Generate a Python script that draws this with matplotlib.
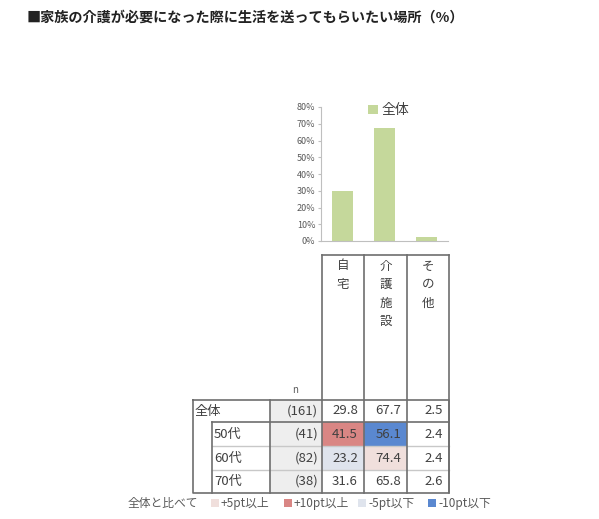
import matplotlib.pyplot as plt
from matplotlib.patches import Rectangle

plt.rcParams['font.family'] = ['Noto Sans CJK JP', 'DejaVu Sans']

# data
places = ['自宅', '介護施設', 'その他']
overall = [29.8, 67.7, 2.5]
row_labels = ['全体', '50代', '60代', '70代']
row_n = [161, 41, 82, 38]
values = [
    [29.8, 67.7, 2.5],
    [41.5, 56.1, 2.4],
    [23.2, 74.4, 2.4],
    [31.6, 65.8, 2.6],
]
legend_labels = ['+5pt以上', '+10pt以上', '-5pt以下', '-10pt以下']
legend_colors = ['#f0dfdc', '#d98684', '#dfe4ed', '#5a88d0']

W, H = 599, 519
fig = plt.figure(figsize=(W / 100, H / 100), dpi=100)

txt = '#404040'
line = '#6e6e6e'
grid = '#c8c8c8'

# overlay axes in pixel coords
ov = fig.add_axes([0, 0, 1, 1])
ov.set_xlim(0, W)
ov.set_ylim(H, 0)
ov.axis('off')

ov.text(27, 18, '■家族の介護が必要になった際に生活を送ってもらいたい場所（%）',
        fontsize=10.2, fontweight='bold', color='#222222', va='center', ha='left')

# bar chart
bx0, bx1, by0, by1 = 321, 448, 107, 241
ax = fig.add_axes([bx0 / W, 1 - by1 / H, (bx1 - bx0) / W, (by1 - by0) / H])
ax.bar(range(3), [v / 100 for v in overall], width=0.5, color='#c5d89b', label='全体')
ax.set_xlim(-0.5, 2.5)
ax.set_ylim(0, 0.8)
ax.set_yticks([i / 10 for i in range(9)])
ax.set_yticklabels([f'{i * 10}%' for i in range(9)], fontsize=6.5, color='#595959')
ax.set_xticks([])
for s in ['top', 'right']:
    ax.spines[s].set_visible(False)
for s in ['left', 'bottom']:
    ax.spines[s].set_color('#bfbfbf')
    ax.spines[s].set_linewidth(0.8)
ax.tick_params(axis='y', length=2, color='#bfbfbf', pad=2)
ax.patch.set_alpha(0)
ax.legend(loc='upper left', bbox_to_anchor=(0.27, 1.12), frameon=False, fontsize=10,
          handlelength=0.7, handleheight=0.7, handletextpad=0.3, labelcolor='#404040')

# table geometry
col_x = [322, 364, 407, 449]
row_y = [400, 422, 446, 470, 493]
left, inner, ncol = 193, 212, 270
header_top = 255


def cell_color(v, base):
    d = v - base
    if d >= 10:
        return legend_colors[1]
    if d >= 5:
        return legend_colors[0]
    if d <= -10:
        return legend_colors[3]
    if d <= -5:
        return legend_colors[2]
    return None


# n column background
ov.add_patch(Rectangle((ncol, row_y[0]), col_x[0] - ncol, row_y[-1] - row_y[0],
                       facecolor='#eeeeee', edgecolor='none'))

for i, (lab, n, vals) in enumerate(zip(row_labels, row_n, values)):
    y0, y1 = row_y[i], row_y[i + 1]
    yc = (y0 + y1) / 2
    ov.text(left + 2 if i == 0 else inner + 2, yc, lab, fontsize=9.5, color=txt,
            va='center', ha='left')
    ov.text(col_x[0] - 4, yc, f'({n})', fontsize=9.5, color=txt, va='center', ha='right')
    for j, v in enumerate(vals):
        c = cell_color(v, overall[j]) if i > 0 else None
        if c:
            ov.add_patch(Rectangle((col_x[j], y0), col_x[j + 1] - col_x[j], y1 - y0,
                                   facecolor=c, edgecolor='none'))
        ov.text(col_x[j + 1] - 6, yc, f'{v:.1f}', fontsize=9.5, color=txt,
                va='center', ha='right')

# inner light lines between age rows
for y in row_y[2:4]:
    ov.plot([inner, col_x[-1]], [y, y], color=grid, lw=1)

# dark lines
ov.plot([left, col_x[-1], col_x[-1], left, left],
        [row_y[0], row_y[0], row_y[-1], row_y[-1], row_y[0]], color=line, lw=1.2)
ov.plot([inner, col_x[-1]], [row_y[1], row_y[1]], color=line, lw=1.2)
ov.plot([inner, inner], [row_y[1], row_y[-1]], color=line, lw=1.2)
ov.plot([ncol, ncol], [row_y[0], row_y[-1]], color=line, lw=1.2)
for x in col_x:
    ov.plot([x, x], [header_top, row_y[-1]], color=line, lw=1.2)
ov.plot([col_x[0], col_x[-1]], [header_top, header_top], color=line, lw=1.2)

# header text (vertical)
for j, p in enumerate(places):
    xc = (col_x[j] + col_x[j + 1]) / 2
    for k, ch in enumerate(p):
        ov.text(xc, 266 + k * 18.5, ch, fontsize=9, color=txt, va='center', ha='center')

ov.text(295, 390, 'n', fontsize=7, color='#595959', va='center', ha='center')

# legend row
ov.text(128, 503, '全体と比べて', fontsize=8.5, color='#595959', va='center', ha='left')
sw_x = [211, 284, 358, 428]
for x, lab, c in zip(sw_x, legend_labels, legend_colors):
    ov.add_patch(Rectangle((x, 499), 8, 8, facecolor=c, edgecolor='none'))
    ov.text(x + 10, 503, lab, fontsize=8.5, color='#595959', va='center', ha='left')

fig.savefig('out.png', dpi=100)
